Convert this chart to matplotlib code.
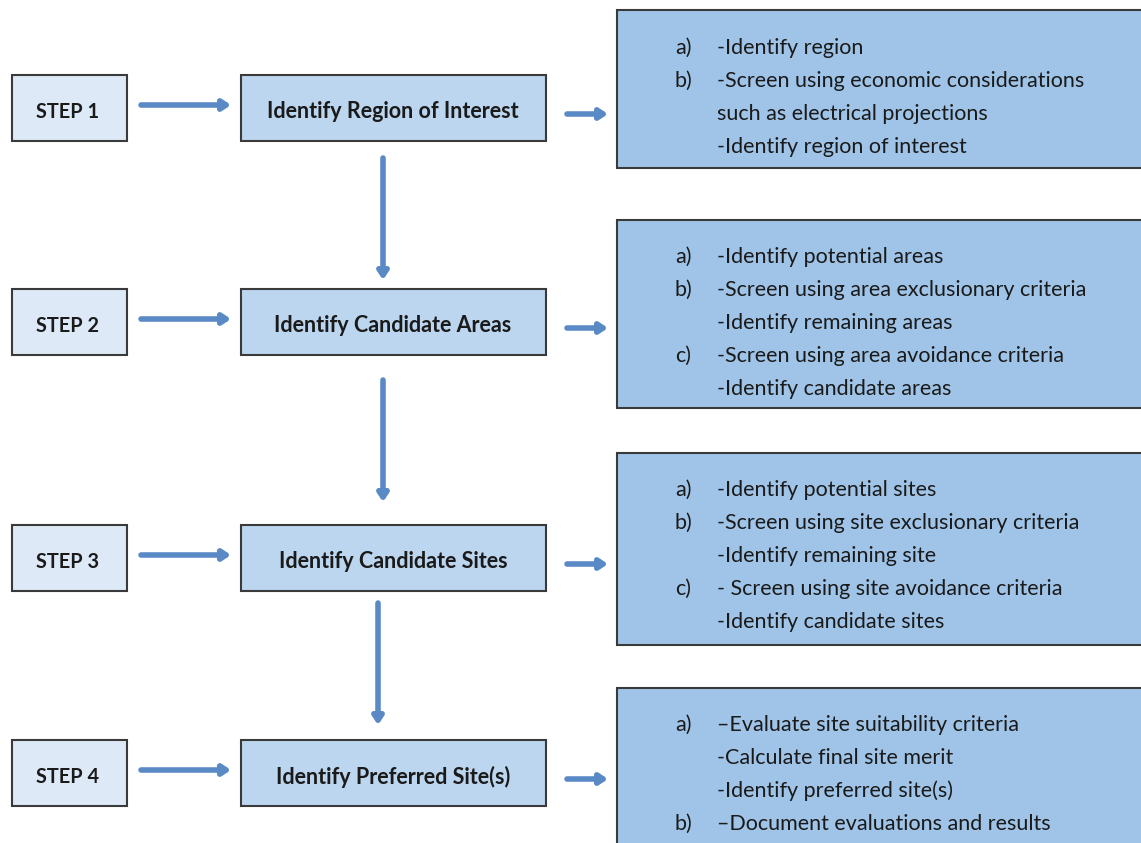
import matplotlib
matplotlib.use("Agg")
import matplotlib.pyplot as plt
from matplotlib.patches import Rectangle, FancyArrowPatch

plt.rcParams['font.family'] = ['Lato', 'DejaVu Sans']

# chart content
step_labels = ['STEP 1', 'STEP 2', 'STEP 3', 'STEP 4']
stage_labels = ['Identify Region of Interest', 'Identify Candidate Areas',
                'Identify Candidate Sites', 'Identify Preferred Site(s)']
detail_markers = [
    ['a)', 'b)', '', ''],
    ['a)', 'b)', '', 'c)', ''],
    ['a)', 'b)', '', 'c)', ''],
    ['a)', '', '', 'b)'],
]
detail_lines = [
    ['-Identify region', '-Screen using economic considerations',
     'such as electrical projections', '-Identify region of interest'],
    ['-Identify potential areas', '-Screen using area exclusionary criteria',
     '-Identify remaining areas', '-Screen using area avoidance criteria',
     '-Identify candidate areas'],
    ['-Identify potential sites', '-Screen using site exclusionary criteria',
     '-Identify remaining site', '- Screen using site avoidance criteria',
     '-Identify candidate sites'],
    ['\u2013Evaluate site suitability criteria', '-Calculate final site merit',
     '-Identify preferred site(s)', '\u2013Document evaluations and results'],
]

# layout (pixels, y down)
row_top = [75, 289, 525, 740]
row_h = 66
detail_top = [10, 220, 453, 688]
detail_bot = [168, 408, 645, 860]
detail_first = [46, 255, 488, 723]
line_gap = 33
vert_x = [383, 383, 378]
vert_y = [(158, 280), (380, 502), (603, 725)]

EDGE = '#3a3a3a'
ARROW = '#5a8ac6'
TXT = '#1a1a1a'

fig = plt.figure(figsize=(11.41, 8.43), dpi=100)
ax = fig.add_axes([0, 0, 1, 1])
ax.set_xlim(0, 1141)
ax.set_ylim(843, 0)
ax.axis('off')


def arrow(x0, y0, x1, y1):
    a = FancyArrowPatch((x0, y0), (x1, y1),
                        arrowstyle='-|>,head_length=0.45,head_width=0.3',
                        mutation_scale=10, lw=4, color=ARROW,
                        shrinkA=0, shrinkB=0)
    ax.add_patch(a)


for i in range(4):
    top = row_top[i]
    mid = top + row_h / 2
    ax.add_patch(Rectangle((12, top), 115, row_h, facecolor='#dde9f6',
                           edgecolor=EDGE, lw=1.5))
    ax.text(68, mid + 2, step_labels[i], ha='center', va='center_baseline',
            fontsize=14.3, fontweight='bold', color=TXT)
    ax.add_patch(Rectangle((241, top), 305, row_h, facecolor='#bcd6ef',
                           edgecolor=EDGE, lw=1.5))
    ax.text(393, mid + 2, stage_labels[i], ha='center', va='center_baseline',
            fontsize=15.5, fontweight='bold', color=TXT)
    arrow(141, mid - 3, 231, mid - 3)
    arrow(567, mid + 6, 608, mid + 6)

    ax.add_patch(Rectangle((617, detail_top[i]), 540, detail_bot[i] - detail_top[i],
                           facecolor='#9fc4e8', edgecolor=EDGE, lw=1.5))
    for j, (m, t) in enumerate(zip(detail_markers[i], detail_lines[i])):
        y = detail_first[i] + j * line_gap
        if m:
            ax.text(675, y, m, ha='left', va='center_baseline', fontsize=15.5, color=TXT)
        ax.text(717, y, t, ha='left', va='center_baseline', fontsize=15.5, color=TXT)

for x, (y0, y1) in zip(vert_x, vert_y):
    arrow(x, y0, x, y1)

fig.savefig('out.png', dpi=100)
